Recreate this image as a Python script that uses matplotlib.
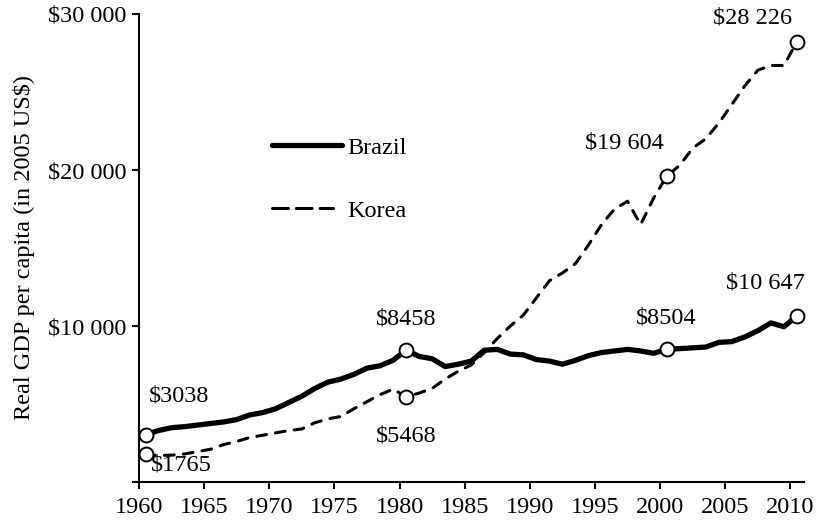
import numpy as np
import matplotlib.pyplot as plt

# Real GDP per capita, 2005 US$
years = np.arange(1960, 2011)

brazil = [3038, 3300, 3480, 3550, 3650, 3750, 3850, 4000, 4300, 4450,
          4700, 5100, 5500, 6000, 6400, 6600, 6900, 7300, 7450, 7800,
          8458, 8050, 7900, 7400, 7550, 7750, 8450, 8500, 8200, 8150,
          7850, 7750, 7550, 7800, 8100, 8300, 8400, 8500, 8400, 8250,
          8504, 8550, 8600, 8650, 8950, 9000, 9300, 9700, 10200, 9950,
          10647]

korea = [1765, 1700, 1720, 1800, 1950, 2100, 2400, 2600, 2850, 3000,
         3150, 3300, 3400, 3800, 4050, 4200, 4700, 5150, 5600, 5950,
         5468, 5700, 6000, 6600, 7100, 7500, 8300, 9200, 10000, 10700,
         11800, 12900, 13400, 14000, 15200, 16500, 17500, 18000, 16500, 18200,
         19604, 20300, 21400, 22000, 23000, 24200, 25400, 26400, 26700, 26700,
         28226]

# highlighted years and their labels
mark_years = [1960, 1980, 2000, 2010]
brazil_labels = ['$3038', '$8458', '$8504', '$10 647']
korea_labels = ['$1765', '$5468', '$19 604', '$28 226']
# label offsets in pixels (dx, dy)
brazil_offsets = [(34, 39), (0, 31), (0, 31), (-32, 33)]
korea_offsets = [(36, -11), (0, -39), (-42, 33), (-44, 24)]

y_ticks = [0, 10000, 20000, 30000]
y_ticklabels = ['', '$10 000', '$20 000', '$30 000']
x_ticks = np.arange(1960, 2011, 5)

plt.rcParams['font.family'] = ['Liberation Serif', 'DejaVu Serif']
plt.rcParams['text.parse_math'] = False
FS = 17.5

fig = plt.figure(figsize=(8.25, 5.23), dpi=100)
ax = fig.add_axes([139 / 825, 1 - 482 / 523, 665 / 825, 468 / 523])

x_pos = years + 0.5  # values plotted at mid-year

ax.plot(x_pos, brazil, color='black', lw=3.8, solid_capstyle='round',
        solid_joinstyle='round', label='Brazil')
ax.plot(x_pos, korea, color='black', lw=2.2, dashes=(3.2, 3.0),
        dash_capstyle='round', label='Korea')

for data, labels, offsets in [(brazil, brazil_labels, brazil_offsets),
                              (korea, korea_labels, korea_offsets)]:
    for yr, lab, off in zip(mark_years, labels, offsets):
        i = yr - 1960
        ax.plot(x_pos[i], data[i], 'o', ms=10, mfc='white', mec='black',
                mew=1.4, zorder=5, clip_on=False)
        ax.annotate(lab, (x_pos[i], data[i]), xytext=off,
                    textcoords='offset pixels', ha='center', va='center',
                    fontsize=FS)

ax.set_xlim(1960, 2011.04)
ax.set_ylim(0, 30000)
ax.set_xticks(x_ticks)
ax.set_xticklabels([str(x) for x in x_ticks], fontsize=FS)
ax.set_yticks(y_ticks)
ax.set_yticklabels(y_ticklabels, fontsize=FS)
ax.tick_params(direction='out', length=5, width=1.5, pad=4)
ax.tick_params(axis='x', pad=6)

for side in ['top', 'right']:
    ax.spines[side].set_visible(False)
for side in ['left', 'bottom']:
    ax.spines[side].set_linewidth(1.5)

ax.set_ylabel('Real GDP per capita (in 2005 US$)', fontsize=FS, labelpad=9)

leg = ax.legend(loc='upper left', bbox_to_anchor=(0.2, 0.738), frameon=False,
                fontsize=FS, handlelength=2.9, handletextpad=0.2,
                labelspacing=1.7, borderpad=0, borderaxespad=0)
# shorter dashed handle for Korea, three dashes
kline = leg.get_lines()[1]
kx = np.asarray(kline.get_xdata(), dtype=float)
kline.set_xdata(kx[0] + (kx - kx[0]) * 0.86)
kline.set_dashes((5.2, 2.6))

fig.savefig('out.png', dpi=100)
